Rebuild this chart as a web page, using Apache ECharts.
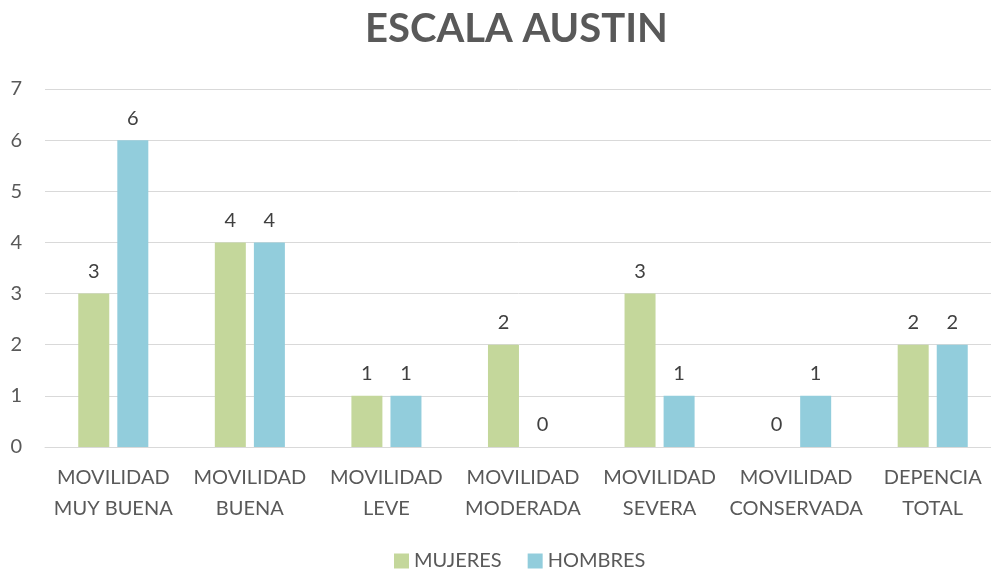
<!DOCTYPE html>
<html>
<head>
<meta charset="utf-8">
<script src="https://cdn.jsdelivr.net/npm/echarts@6/dist/echarts.min.js"></script>
<style>
  html, body { margin: 0; padding: 0; background: #fff; }
  #main { width: 991px; height: 569px; }
</style>
</head>
<body>
<div id="main"></div>
<script>
// datos
var categorias = ['MOVILIDAD\nMUY BUENA', 'MOVILIDAD\nBUENA', 'MOVILIDAD\nLEVE', 'MOVILIDAD\nMODERADA', 'MOVILIDAD\nSEVERA', 'MOVILIDAD\nCONSERVADA', 'DEPENCIA\nTOTAL'];
var mujeres = [3, 4, 1, 2, 3, 0, 2];
var hombres = [6, 4, 1, 0, 1, 1, 2];

var fuente = 'Lato';
var gris = '#595959';

var chart = echarts.init(document.getElementById('main'));

function serie(nombre, datos, color) {
  return {
    name: nombre,
    type: 'bar',
    data: datos,
    barWidth: 31,
    barGap: '26%',
    itemStyle: { color: color },
    label: {
      show: true,
      position: 'top',
      distance: 12,
      color: '#404040',
      fontFamily: fuente,
      fontSize: 20
    }
  };
}

chart.setOption({
  animation: false,
  title: {
    text: 'ESCALA AUSTIN',
    left: 360,
    top: 4,
    textStyle: { color: gris, fontFamily: fuente, fontSize: 40, fontWeight: 'bold' }
  },
  legend: {
    top: 546,
    left: 389,
    itemWidth: 15,
    itemHeight: 15,
    itemGap: 26,
    icon: 'rect',
    textStyle: { color: gris, fontFamily: fuente, fontSize: 20 },
    data: ['MUJERES', 'HOMBRES']
  },
  grid: { left: 45, right: -10, top: 89, bottom: 122, outerBoundsMode: 'none' },
  xAxis: {
    type: 'category',
    data: categorias,
    axisTick: { show: false },
    axisLine: { lineStyle: { color: '#d9d9d9', width: 1 } },
    axisLabel: { color: gris, fontFamily: fuente, fontSize: 20, margin: 15, lineHeight: 31, interval: 0 }
  },
  yAxis: {
    type: 'value',
    min: 0,
    max: 7,
    interval: 1,
    axisLine: { show: false },
    axisTick: { show: false },
    axisLabel: { color: gris, fontFamily: fuente, fontSize: 20, margin: 23 },
    splitLine: { lineStyle: { color: '#d9d9d9', width: 1 } }
  },
  series: [
    serie('MUJERES', mujeres, '#c4d79b'),
    serie('HOMBRES', hombres, '#92cddc')
  ]
});
</script>
</body>
</html>
